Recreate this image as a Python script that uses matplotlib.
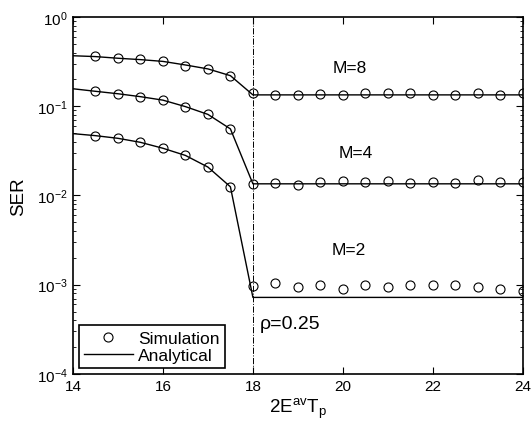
import numpy as np
import matplotlib
matplotlib.use("Agg")
import matplotlib.pyplot as plt
from matplotlib.ticker import LogLocator, NullFormatter

plt.rcParams['font.family'] = ['Liberation Sans', 'DejaVu Sans']
plt.rcParams['mathtext.fontset'] = 'custom'
plt.rcParams['mathtext.rm'] = 'Liberation Sans'

# simulation points
x_sim = [14.5, 15, 15.5, 16, 16.5, 17, 17.5, 18, 18.5, 19, 19.5, 20, 20.5,
         21, 21.5, 22, 22.5, 23, 23.5, 24]
sim_m8 = [0.365, 0.343, 0.334, 0.320, 0.286, 0.263, 0.217, 0.139, 0.134, 0.134,
          0.136, 0.134, 0.139, 0.141, 0.142, 0.134, 0.134, 0.140, 0.134, 0.139]
sim_m4 = [0.147, 0.138, 0.128, 0.118, 0.098, 0.081, 0.0557, 0.0135, 0.0138, 0.0132,
          0.0142, 0.0145, 0.0142, 0.0145, 0.0138, 0.0142, 0.0138, 0.0148, 0.0140, 0.0140]
sim_m2 = [0.0468, 0.0437, 0.0394, 0.0338, 0.0281, 0.0208, 0.0125, 0.00097, 0.00105, 0.00095,
          0.00100, 0.00089, 0.00098, 0.00093, 0.00100, 0.00098, 0.00100, 0.00095, 0.00089, 0.00086]

# analytical curves
x_ana = [14, 14.5, 15, 15.5, 16, 16.5, 17, 17.5, 18, 24]
ana_m8 = [0.368, 0.360, 0.345, 0.333, 0.318, 0.290, 0.262, 0.220, 0.134, 0.134]
ana_m4 = [0.157, 0.147, 0.138, 0.128, 0.117, 0.099, 0.081, 0.0557, 0.0135, 0.0135]
ana_m2 = [0.0493, 0.0468, 0.0437, 0.0394, 0.0338, 0.0281, 0.0208, 0.0125, 0.00072, 0.00072]

fig = plt.figure(figsize=(5.32, 4.39), dpi=100)
ax = fig.add_axes([0.137, 0.146, 0.846, 0.813])

for ya in [ana_m8, ana_m4, ana_m2]:
    ax.semilogy(x_ana, ya, color='black', lw=1.0)
for ys in [sim_m8, sim_m4, sim_m2]:
    ax.semilogy(x_sim, ys, 'o', mfc='none', mec='black', ms=6.5, mew=0.8)

ax.axvline(18, color='black', lw=0.7, ls='-.')

# legend proxies
h1, = ax.plot([], [], 'o', mfc='none', mec='black', ms=6.5, mew=0.8)
h2, = ax.plot([], [], color='black', lw=1.0)
leg = ax.legend([h1, h2], ['Simulation', 'Analytical'], loc='lower left',
                fontsize=12.5, fancybox=False, edgecolor='black', framealpha=1,
                borderpad=0.3, labelspacing=0.1, handlelength=2.8,
                handletextpad=0.3, borderaxespad=0.35)
leg.get_frame().set_linewidth(1.2)

ax.text(20.16, 0.274, 'M=8', fontsize=12.5, ha='center', va='center')
ax.text(20.29, 0.0304, 'M=4', fontsize=12.5, ha='center', va='center')
ax.text(20.14, 0.00247, 'M=2', fontsize=12.5, ha='center', va='center')
ax.text(18.15, 0.000365, '\u03c1=0.25', fontsize=14, ha='left', va='center')

ax.set_xlim(14, 24)
ax.set_ylim(1e-4, 1)
ax.set_xticks([14, 16, 18, 20, 22, 24])
ax.yaxis.set_major_locator(LogLocator(base=10, numticks=10))
ax.yaxis.set_minor_locator(LogLocator(base=10, subs=np.arange(2, 10), numticks=10))
ax.yaxis.set_minor_formatter(NullFormatter())
ax.tick_params(which='both', direction='in', top=True, right=True, labelsize=11)
ax.tick_params(which='major', length=5)
ax.tick_params(which='minor', length=2.5)
for s in ax.spines.values():
    s.set_linewidth(1.2)

ax.set_ylabel('SER', fontsize=13.5, labelpad=7)
ax.set_xlabel(r'$\mathregular{2E^{av}T_p}$', fontsize=13.5, labelpad=2)

fig.savefig('out.png', dpi=100)
